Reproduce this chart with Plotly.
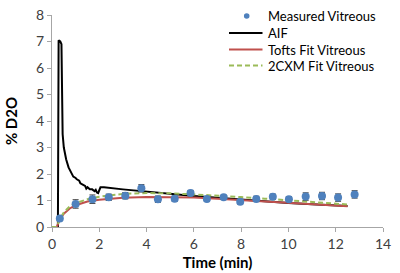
import plotly.graph_objects as go

# Measured vitreous data
meas_t = [0.33, 1.0, 1.71, 2.4, 3.1, 3.78, 4.48, 5.19, 5.86, 6.55, 7.26, 7.96, 8.64, 9.34, 10.02, 10.73, 11.42, 12.1, 12.8]
meas_y = [0.32, 0.87, 1.05, 1.12, 1.18, 1.46, 1.05, 1.07, 1.28, 1.06, 1.12, 0.95, 1.06, 1.14, 1.05, 1.15, 1.17, 1.11, 1.23]
meas_err = [0.08, 0.16, 0.16, 0.12, 0.12, 0.14, 0.12, 0.1, 0.1, 0.08, 0.08, 0.08, 0.1, 0.1, 0.1, 0.14, 0.14, 0.14, 0.14]

# Arterial input function
aif_t = [0, 0.25, 0.28, 0.35, 0.4, 0.42, 0.45, 0.5, 0.6, 0.7, 0.8, 0.9, 1.0, 1.05, 1.15, 1.2, 1.3, 1.4, 1.45,
         1.5, 1.6, 1.7, 1.8, 1.85, 1.9, 1.95, 2.05, 2.2, 3, 4, 5, 6, 7, 8, 9, 10, 11, 12, 12.5]
aif_y = [0, 0, 7.05, 7.0, 6.9, 3.6, 3.5, 3.0, 2.55, 2.25, 2.05, 1.9, 1.85, 1.8, 1.75, 1.65, 1.6, 1.55, 1.45,
         1.5, 1.42, 1.42, 1.35, 1.4, 1.3, 1.28, 1.5, 1.5, 1.42, 1.33, 1.25, 1.17, 1.1, 1.03, 0.97, 0.91, 0.86, 0.81, 0.79]

# Model fits
fit_t = [0, 0.2, 0.33, 0.5, 0.75, 1, 1.5, 2, 2.5, 3, 4, 5, 6, 7, 8, 9, 10, 11, 12, 12.5]
tofts_y = [0, 0, 0.28, 0.5, 0.7, 0.82, 0.96, 1.03, 1.07, 1.1, 1.13, 1.13, 1.11, 1.07, 1.02, 0.97, 0.92, 0.87, 0.81, 0.78]
cxm_y = [0, 0, 0.3, 0.55, 0.78, 0.9, 1.05, 1.14, 1.2, 1.25, 1.28, 1.27, 1.23, 1.19, 1.13, 1.07, 1.01, 0.95, 0.88, 0.85]

x_ticks = [0, 2, 4, 6, 8, 10, 12, 14]
y_ticks = [0, 1, 2, 3, 4, 5, 6, 7, 8]

legend_names = ["Measured Vitreous", "AIF", "Tofts Fit Vitreous", "2CXM Fit Vitreous"]

FONT = "Lato"
BLUE = "#4F81BD"
BLACK = "black"
RED = "#C0504D"
GREEN = "#9BBB59"
GREEN_DASH = "5px,3px"

W, H = 400, 273
ML, MR, MT, MB = 52, 17, 15, 46
PW, PH = W - ML - MR, H - MT - MB


def px_x(px):
    return (px - ML) / PW


def px_y(py):
    return 1 - (py - MT) / PH


fig = go.Figure()
fig.add_trace(go.Scatter(x=aif_t, y=aif_y, mode="lines", name=legend_names[1],
                         line=dict(color=BLACK, width=2), showlegend=False))
fig.add_trace(go.Scatter(x=fit_t, y=tofts_y, mode="lines", name=legend_names[2],
                         line=dict(color=RED, width=2), showlegend=False))
fig.add_trace(go.Scatter(x=fit_t, y=cxm_y, mode="lines", name=legend_names[3],
                         line=dict(color=GREEN, width=2, dash=GREEN_DASH), showlegend=False))
fig.add_trace(go.Scatter(x=meas_t, y=meas_y, mode="markers", name=legend_names[0],
                         marker=dict(color=BLUE, size=8), showlegend=False,
                         error_y=dict(type="data", array=meas_err, color="#404040", thickness=1, width=3)))

# Legend (drawn like the original: compact rows)
row_y = [16, 33, 49.5, 65.5]
sym_x0, sym_x1, text_x = 229, 262.5, 266
shapes = []
annotations = []
# marker symbol
shapes.append(dict(type="circle", xref="paper", yref="paper",
                   x0=px_x(246.7 - 2.8), x1=px_x(246.7 + 2.8),
                   y0=px_y(row_y[0] + 2.8), y1=px_y(row_y[0] - 2.8),
                   fillcolor=BLUE, line=dict(width=0)))
for ry, col, dash in [(row_y[1], BLACK, "solid"), (row_y[2], RED, "solid"), (row_y[3], GREEN, GREEN_DASH)]:
    shapes.append(dict(type="line", xref="paper", yref="paper",
                       x0=px_x(sym_x0), x1=px_x(sym_x1), y0=px_y(ry), y1=px_y(ry),
                       line=dict(color=col, width=2, dash=dash)))
for name, ry in zip(legend_names, row_y):
    annotations.append(dict(text=name, xref="paper", yref="paper", x=px_x(text_x), y=px_y(ry),
                            xanchor="left", yanchor="middle", showarrow=False,
                            font=dict(family=FONT, size=13, color="black")))

fig.update_layout(
    width=W, height=H,
    margin=dict(l=ML, r=MR, t=MT, b=MB),
    paper_bgcolor="white", plot_bgcolor="white",
    font=dict(family=FONT, size=14, color="#404040"),
    showlegend=False,
    shapes=shapes, annotations=annotations,
    xaxis=dict(range=[0, 14], tickvals=x_ticks, showgrid=False, zeroline=False, automargin=False,
               showline=True, linecolor="#A6A6A6", linewidth=1, ticks="outside", ticklen=4,
               tickcolor="#A6A6A6",
               title=dict(text="<b>Time (min)</b>", font=dict(family=FONT, size=15, color="black"), standoff=6)),
    yaxis=dict(range=[0, 8], tickvals=y_ticks, showgrid=False, zeroline=False, automargin=False,
               showline=True, linecolor="#A6A6A6", linewidth=1, ticks="outside", ticklen=4,
               tickcolor="#A6A6A6",
               title=dict(text="<b>% D2O</b>", font=dict(family=FONT, size=15, color="black"), standoff=14)),
)

fig.write_html("out.html", config={"displayModeBar": False},
               post_script="document.body.style.margin='0px';")
